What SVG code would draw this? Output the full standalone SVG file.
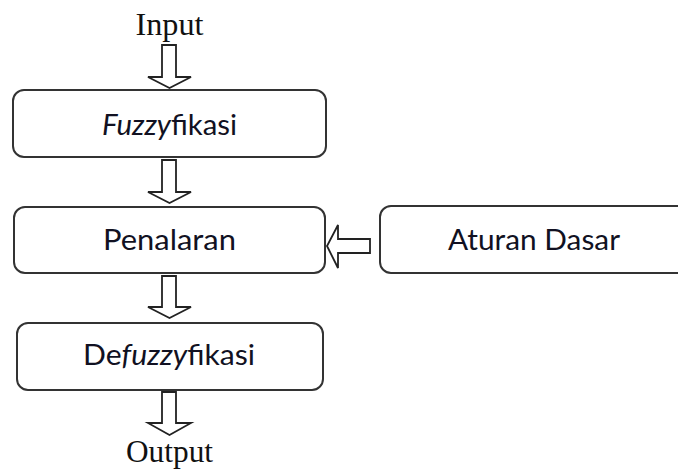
<svg xmlns="http://www.w3.org/2000/svg" width="678" height="470" viewBox="0 0 678 470">
<style>
.box{fill:#fff;stroke:#333;stroke-width:2}
.arr{fill:#fff;stroke:#222;stroke-width:1.8;stroke-linejoin:miter}
.lbl{font-family:Lato,"Noto Sans",sans-serif;font-size:28px;fill:#111122;text-anchor:middle}
.io{font-family:"Liberation Serif",serif;font-size:31px;fill:#111;text-anchor:middle}
</style>
<rect width="678" height="470" fill="#fff"/>
<g id="connectors">
<path class="arr" d="M162,45 H176 V77 H191 L169.5,88 L148,77 H162 Z"/>
<path class="arr" d="M162,160 H176 V192 H191 L169.5,203 L148,192 H162 Z"/>
<path class="arr" d="M162,276 H176 V307 H191 L169.5,318 L148,307 H162 Z"/>
<path class="arr" d="M162,392 H176 V423 H191 L169.5,435 L148,423 H162 Z"/>
<path class="arr" d="M370,239 V253 H338 V268 L327,246 L338,225 V239 Z"/>
</g>
<g id="input"><text class="io" x="169.5" y="35" textLength="68" lengthAdjust="spacingAndGlyphs">Input</text></g>
<g id="fuzzyfikasi">
<rect class="box" x="13" y="90" width="313" height="67" rx="11"/>
<text class="lbl" x="169.5" y="135" textLength="135" lengthAdjust="spacingAndGlyphs"><tspan font-style="italic">Fuzzy</tspan>fikasi</text>
</g>
<g id="penalaran">
<rect class="box" x="14" y="207" width="311" height="66" rx="11"/>
<text class="lbl" x="169.5" y="250" textLength="133" lengthAdjust="spacingAndGlyphs">Penalaran</text>
</g>
<g id="aturan-dasar">
<rect class="box" x="380" y="206" width="310" height="67" rx="11"/>
<text class="lbl" x="534" y="250" textLength="172" lengthAdjust="spacingAndGlyphs">Aturan Dasar</text>
</g>
<g id="defuzzyfikasi">
<rect class="box" x="17" y="323" width="306" height="67" rx="11"/>
<text class="lbl" x="169" y="365" textLength="172" lengthAdjust="spacingAndGlyphs">De<tspan font-style="italic">fuzzy</tspan>fikasi</text>
</g>
<g id="output"><text class="io" x="169.5" y="462" textLength="87" lengthAdjust="spacingAndGlyphs">Output</text></g>
</svg>
